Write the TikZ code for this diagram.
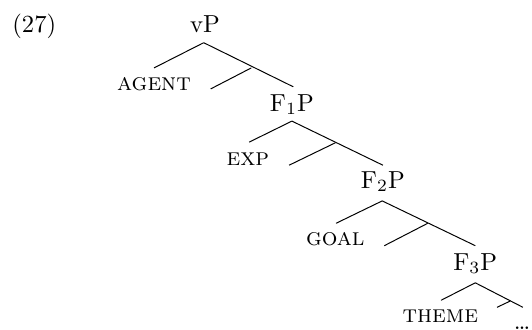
\documentclass[tikz,border=0pt]{standalone}
\tikzset{cat/.style={anchor=base}, role/.style={anchor=base,font=\scshape}}
\begin{document}
\begin{tikzpicture}
%    \draw[black,thin] (0.0,0.0) grid (7.6,4.7);
    \useasboundingbox (0.0,0.0) rectangle (7.6,4.7);

    \node [anchor=base] (exnum) at (0.49,4.24) {(27)};

    % vP
    \node [cat] (vP) at (2.93,4.24) {vP};
    \coordinate (vPtop) at (2.91,4.09);
    \node [role] (agent) at (2.20,3.41) {agent};
    \coordinate (agentup) at (2.20,3.73);
    \coordinate (barA) at (3.59,3.73);
    \coordinate (barAleft) at (3.01,3.43);
    \coordinate (FoneUp) at (4.19,3.46);
    \draw (vPtop) -- (agentup);
    \draw (vPtop) -- (FoneUp);
    \draw (barA) -- (barAleft);

    % F1P
    \node [cat] (Fone) at (4.17,3.11) {F$_1$P};
    \coordinate (Fonetop) at (4.17,2.97);
    \node [role] (exp) at (3.54,2.34) {exp};
    \coordinate (expup) at (3.56,2.67);
    \coordinate (barB) at (4.79,2.66);
    \coordinate (barBleft) at (4.13,2.34);
    \coordinate (FtwoUp) at (5.47,2.34);
    \draw (Fonetop) -- (expup);
    \draw (Fonetop) -- (FtwoUp);
    \draw (barB) -- (barBleft);

    % F2P
    \node [cat] (Ftwo) at (5.47,2.01) {F$_2$P};
    \coordinate (Ftwotop) at (5.46,1.83);
    \node [role] (goal) at (4.79,1.19) {goal};
    \coordinate (goalup) at (4.80,1.51);
    \coordinate (barC) at (6.11,1.51);
    \coordinate (barCleft) at (5.49,1.19);
    \coordinate (FthreeUp) at (6.79,1.19);
    \draw (Ftwotop) -- (goalup);
    \draw (Ftwotop) -- (FthreeUp);
    \draw (barC) -- (barCleft);

    % F3P
    \node [cat] (Fthree) at (6.79,0.84) {F$_3$P};
    \coordinate (Fthreetop) at (6.79,0.66);
    \node [role] (theme) at (6.29,0.09) {theme};
    \coordinate (themeup) at (6.30,0.41);
    \coordinate (barD) at (7.29,0.40);
    \coordinate (barDleft) at (7.10,0.31);
    \coordinate (restup) at (7.47,0.31);
    \draw (Fthreetop) -- (themeup);
    \draw (Fthreetop) -- (restup);
    \draw (barD) -- (barDleft);
    \node [cat] (rest) at (7.46,0.0) {\ldots};

\end{tikzpicture}
\end{document}
